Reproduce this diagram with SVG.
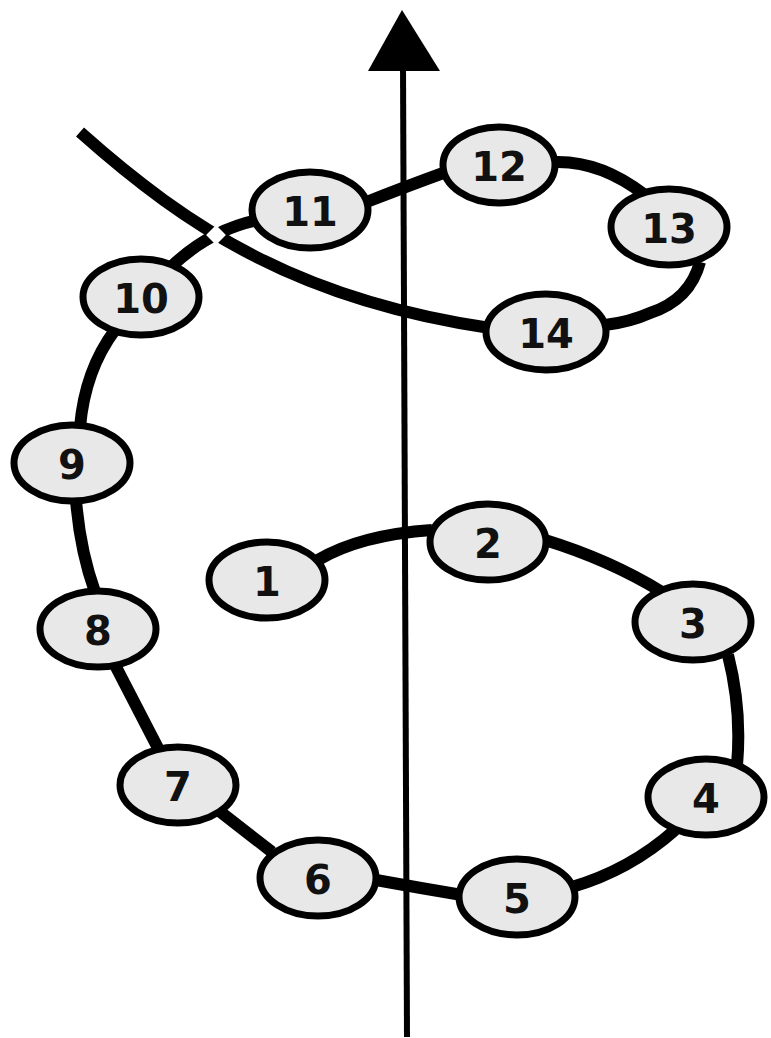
<svg xmlns="http://www.w3.org/2000/svg" width="771" height="1038" viewBox="0 0 771 1038">
<style>
.c{fill:none;stroke:#000;stroke-width:12;stroke-linecap:butt}
.n ellipse{fill:#e8e8e8;stroke:#000;stroke-width:7}
.n text{font-family:"DejaVu Sans","Liberation Sans",sans-serif;font-weight:bold;font-size:40px;fill:#111;text-anchor:middle;dominant-baseline:central}
</style>
<rect width="771" height="1038" fill="#fff"/>
<g id="connectors">
<path class="c" d="M318,560 Q360,535 432,530"/>
<path class="c" d="M545,540 Q610,560 662,592"/>
<path class="c" d="M728,655 Q742,710 737,765"/>
<path class="c" d="M675,830 Q630,870 572,887"/>
<path class="c" d="M462,895 Q420,888 376,880"/>
<path class="c" d="M272,852 L218,810"/>
<path class="c" d="M160,752 L115,665"/>
<path class="c" d="M95,592 Q80,550 76,500"/>
<path class="c" d="M80,427 Q85,370 115,330"/>
<path class="c" d="M172,266 Q210,230 258,220"/>
<path class="c" d="M364,203 Q410,185 446,172"/>
<path class="c" d="M553,162 Q600,160 645,195"/>
<path class="c" d="M700,262 Q690,300 650,313 Q630,322 605,325"/>
<path class="c" d="M80,132 C190,230 300,300 490,328"/>
<rect x="209" y="228" width="14" height="14" fill="#fff" transform="rotate(45 216 235)"/>
<line x1="407" y1="1037" x2="403" y2="65" stroke="#000" stroke-width="6"/>
<polygon points="402,10 368,71 440,71" fill="#000"/>
</g>
<g id="n1" class="n"><ellipse cx="267" cy="580" rx="58" ry="38"/><text x="267" y="582">1</text></g>
<g id="n2" class="n"><ellipse cx="488" cy="542" rx="58" ry="38"/><text x="488" y="544">2</text></g>
<g id="n3" class="n"><ellipse cx="693" cy="622" rx="58" ry="38"/><text x="693" y="624">3</text></g>
<g id="n4" class="n"><ellipse cx="706" cy="797" rx="58" ry="38"/><text x="706" y="799">4</text></g>
<g id="n5" class="n"><ellipse cx="517" cy="897" rx="58" ry="38"/><text x="517" y="899">5</text></g>
<g id="n6" class="n"><ellipse cx="318" cy="878" rx="58" ry="38"/><text x="318" y="880">6</text></g>
<g id="n7" class="n"><ellipse cx="178" cy="785" rx="58" ry="38"/><text x="178" y="787">7</text></g>
<g id="n8" class="n"><ellipse cx="98" cy="629" rx="58" ry="38"/><text x="98" y="631">8</text></g>
<g id="n9" class="n"><ellipse cx="72" cy="463" rx="58" ry="38"/><text x="72" y="465">9</text></g>
<g id="n10" class="n"><ellipse cx="141" cy="297" rx="58" ry="38"/><text x="141" y="299">10</text></g>
<g id="n11" class="n"><ellipse cx="310" cy="210" rx="58" ry="38"/><text x="310" y="212">11</text></g>
<g id="n12" class="n"><ellipse cx="499" cy="165" rx="56" ry="38"/><text x="499" y="167">12</text></g>
<g id="n13" class="n"><ellipse cx="669" cy="227" rx="58" ry="38"/><text x="669" y="229">13</text></g>
<g id="n14" class="n"><ellipse cx="546" cy="332" rx="60" ry="38"/><text x="546" y="334">14</text></g>
</svg>
